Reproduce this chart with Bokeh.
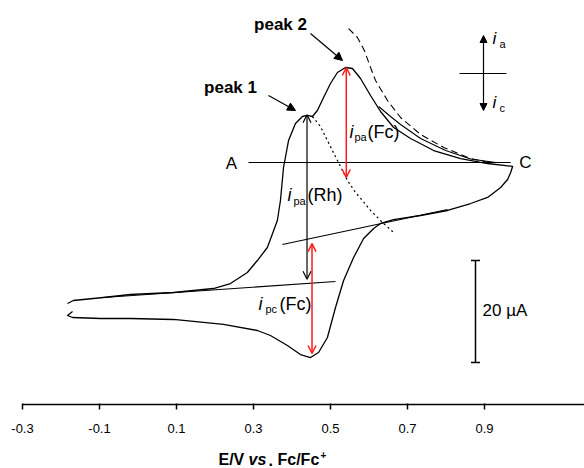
from bokeh.plotting import figure
from bokeh.models import Range1d, FixedTicker, Arrow, OpenHead, NormalHead, TeeHead, Label
from bokeh.embed import file_html
from bokeh.resources import INLINE

# ---------------- data (E in V vs Fc/Fc+, current in uA) ----------------
fwd_E = [-0.183, -0.168, -0.090, -0.020, 0.092, 0.196, 0.240, 0.284, 0.310, 0.336,
         0.362, 0.370, 0.378, 0.391, 0.409, 0.427, 0.440, 0.453, 0.466, 0.482,
         0.500, 0.518, 0.539, 0.557, 0.578, 0.604, 0.630, 0.664, 0.708, 0.768,
         0.838, 0.908, 0.973]
fwd_I = [-27.65, -27.06, -26.47, -25.88, -25.49, -24.71, -23.73, -21.57, -19.22, -16.67,
         -11.37, -7.45, -0.98, 4.31, 7.65, 9.02, 9.22, 9.02, 10.20, 12.75,
         15.49, 17.65, 18.63, 18.43, 16.47, 13.14, 10.00, 6.86, 4.71, 2.35,
         0.78, -0.20, -0.78]
rev_E = [0.968, 0.960, 0.942, 0.908, 0.864, 0.804, 0.734, 0.664, 0.630, 0.612,
         0.586, 0.560, 0.534, 0.513, 0.492, 0.469, 0.448, 0.422, 0.388, 0.344,
         0.310, 0.222, 0.092, -0.020, -0.097, -0.170, -0.183, -0.170]
rev_I = [-1.96, -3.33, -4.90, -6.86, -8.04, -9.41, -10.39, -11.18, -11.96, -12.94,
         -14.90, -18.63, -23.14, -28.43, -34.31, -37.25, -38.24, -37.65, -35.88, -33.92,
         -32.94, -31.76, -30.78, -30.59, -30.59, -30.39, -30.00, -29.22]
extra_E = [0.625, 0.656, 0.682, 0.734, 0.799, 0.864, 0.929]
extra_I = [10.98, 9.02, 7.45, 4.71, 2.35, 0.69, 0.00]
dotted_E = [0.453, 0.474, 0.492, 0.510, 0.526, 0.544, 0.565, 0.583, 0.604, 0.635, 0.664]
dotted_I = [9.02, 7.06, 4.31, 1.57, -0.78, -3.53, -5.88, -7.45, -9.41, -11.76, -13.73]
dashed_E = [0.547, 0.570, 0.588, 0.604, 0.617, 0.648, 0.682, 0.734, 0.794, 0.864, 0.916]
dashed_I = [26.27, 24.51, 21.96, 18.63, 16.08, 12.16, 8.82, 5.49, 2.94, 0.78, -0.10]
base1_E = [-0.090, 0.513]
base1_I = [-26.47, -23.33]
base2_E = [0.375, 0.804]
base2_I = [-16.08, -9.22]
ac_E = [0.287, 0.968]
ac_I = [0.0, 0.0]
# peak-current arrows: (E, top current, bottom current)
ipa_rh = (0.439, 9.35, -22.9)
ipa_fc = (0.541, 18.63, -2.94)
ipc_fc = (0.452, -15.9, -37.45)
tick_values = [-0.3, -0.1, 0.1, 0.3, 0.5, 0.7, 0.9]
tick_labels = ["-0.3", "-0.1", "0.1", "0.3", "0.5", "0.7", "0.9"]
scale_uA = 20.0

# ---------------- helpers for placing annotations ----------------
def px2E(px):
    return (px - 22) / 385.0 - 0.3

def py2I(py):
    return (162 - py) / 5.1

FONT = "Liberation Sans"

p = figure(width=584, height=468, output_backend="svg", toolbar_location=None,
           x_range=Range1d(px2E(0), px2E(584)), y_range=Range1d(py2I(468), py2I(0)),
           y_axis_location=None, min_border_left=0, min_border_right=0,
           min_border_top=0, min_border_bottom=0)
p.outline_line_color = None
p.xgrid.visible = False
p.ygrid.visible = False
p.background_fill_color = "white"

ax = p.xaxis[0]
ax.fixed_location = py2I(404)
ax.ticker = FixedTicker(ticks=tick_values)
ax.major_label_overrides = {t: s for t, s in zip(tick_values, tick_labels)}
ax.bounds = (-0.3, px2E(584))
ax.axis_line_width = 1.5
ax.axis_line_color = "black"
ax.major_tick_line_color = "black"
ax.major_tick_line_width = 1.5
ax.major_tick_in = 1
ax.major_tick_out = 5
ax.minor_tick_line_color = None
ax.major_label_text_font = FONT
ax.major_label_text_font_size = "13px"
ax.major_label_text_color = "black"
ax.major_label_standoff = 14

lw = 1.3
p.line(fwd_E + rev_E, fwd_I + rev_I, line_color="black", line_width=lw, line_join="round")
p.line(extra_E, extra_I, line_color="black", line_width=1.1, line_join="round")
p.line(dotted_E, dotted_I, line_color="black", line_width=1.2, line_dash="2 3")
p.line(dashed_E, dashed_I, line_color="black", line_width=1.1, line_dash="7 4")
p.line(base1_E, base1_I, line_color="black", line_width=1.1)
p.line(base2_E, base2_I, line_color="black", line_width=1.1)
p.line(ac_E, ac_I, line_color="black", line_width=1.1)

def dbl_arrow(spec, color, lwid):
    e, top, bot = spec
    p.add_layout(Arrow(x_start=e, y_start=bot, x_end=e, y_end=top,
                       start=OpenHead(size=8, line_color=color, line_width=lwid),
                       end=OpenHead(size=8, line_color=color, line_width=lwid),
                       line_color=color, line_width=lwid))

dbl_arrow(ipa_rh, "black", 1.2)
dbl_arrow(ipa_fc, "#FF1A1A", 1.5)
dbl_arrow(ipc_fc, "#FF1A1A", 1.5)

# label arrows
p.add_layout(Arrow(x_start=px2E(310), y_start=py2I(33), x_end=px2E(342), y_end=py2I(60),
                   end=NormalHead(size=8, fill_color="black", line_color="black"),
                   line_color="black", line_width=1.2))
p.add_layout(Arrow(x_start=px2E(268), y_start=py2I(95), x_end=px2E(295), y_end=py2I(110),
                   end=NormalHead(size=8, fill_color="black", line_color="black"),
                   line_color="black", line_width=1.2))

# ia / ic direction cross
p.add_layout(Arrow(x_start=px2E(483), y_start=py2I(73), x_end=px2E(483), y_end=py2I(35),
                   end=NormalHead(size=7, fill_color="black", line_color="black"),
                   line_color="black", line_width=1.2))
p.add_layout(Arrow(x_start=px2E(483), y_start=py2I(73), x_end=px2E(483), y_end=py2I(110),
                   end=NormalHead(size=7, fill_color="black", line_color="black"),
                   line_color="black", line_width=1.2))
p.line([px2E(459), px2E(506)], [py2I(73), py2I(73)], line_color="black", line_width=1.1)

# 20 uA scale bar
sb_E = px2E(475)
sb_top = py2I(260)
p.add_layout(Arrow(x_start=sb_E, y_start=sb_top - scale_uA, x_end=sb_E, y_end=sb_top,
                   start=TeeHead(size=9, line_color="black", line_width=1.5),
                   end=TeeHead(size=9, line_color="black", line_width=1.5),
                   line_color="black", line_width=1.5))

def lab(px, py, text, size=17, style="normal", align="left"):
    adj = py - 0.3 * size   # compensate renderer's baseline offset
    p.add_layout(Label(x=px2E(px), y=py2I(adj), text=text, text_font=FONT,
                       text_font_size=f"{size}px", text_font_style=style,
                       text_align=align, text_baseline="alphabetic", text_color="black"))

lab(280, 29, "peak 2", 17, "bold", "center")
lab(230, 92, "peak 1", 17, "bold", "center")
lab(231, 168, "A", 17, "normal", "center")
lab(525, 167, "C", 17, "normal", "center")

# i_pa(Fc)
lab(349, 137, "i", 18, "italic")
lab(354, 140, "pa", 11)
lab(367, 137, "(Fc)", 18)
# i_pa(Rh)
lab(287, 200, "i", 18, "italic")
lab(293, 204, "pa", 11)
lab(307, 200, "(Rh)", 18)
# i_pc(Fc)
lab(258, 309, "i", 18, "italic")
lab(265, 312, "pc", 11)
lab(279, 309, "(Fc)", 18)
# ia / ic
lab(492, 43, "i", 17, "italic")
lab(499, 47, "a", 11)
lab(492, 107, "i", 17, "italic")
lab(499, 111, "c", 11)
# scale label
lab(482, 315, "20 \u00b5A", 17)

# x-axis title
lab(218, 464, "E/V", 16, "bold")
lab(248, 464, "vs", 16, "bold italic")
lab(268, 464, ".", 16, "bold")
lab(277, 464, "Fc/Fc", 16, "bold")
lab(320, 457, "+", 10, "bold")

open("out.html", "w").write(file_html(p, INLINE))
